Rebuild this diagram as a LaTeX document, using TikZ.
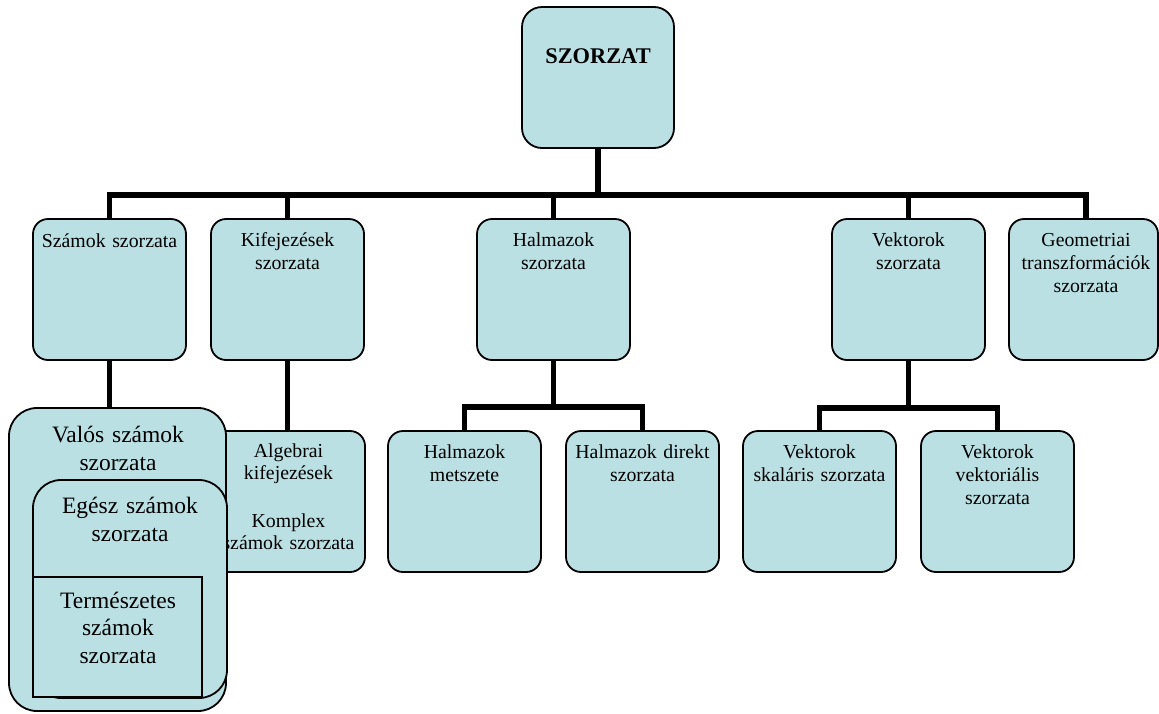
\documentclass[tikz,border=0pt]{standalone}
\usepackage{fontspec}
\setmainfont{Liberation Serif}
\definecolor{boxfill}{RGB}{187,224,228}
\tikzset{
  box/.style={draw=black, line width=1.8pt, fill=boxfill, rounded corners=15pt, inner sep=0pt, outer sep=0pt, anchor=north west},
  bigbox/.style={box, rounded corners=28pt},
  sqbox/.style={box, rounded corners=0pt},
  conn/.style={line width=5.5pt},
  txt/.style={align=center, anchor=base, inner sep=0pt, font=\fontsize{19.8}{23}\selectfont},
  bigtxt/.style={align=center, anchor=base, inner sep=0pt, font=\fontsize{23.5}{28}\selectfont},
}
\begin{document}
\begin{tikzpicture}[x=1pt,y=-1pt]
\useasboundingbox (0,0) rectangle (1159,713);
% top
\node[box, rounded corners=20pt, minimum width=152pt, minimum height=141pt] (top) at (522,7) {};
\node[txt, text width=152pt, font=\bfseries\fontsize{22.4}{26}\selectfont] (top-t) at (598,63) {SZORZAT};
% level 1
\node[box, minimum width=153pt, minimum height=141pt] (szamok) at (33,219) {};
\node[txt, text width=153pt] (szamok-t) at (szamok.north |- 0,247) {Számok szorzata};
\node[box, minimum width=153pt, minimum height=141pt] (kif) at (211,219) {};
\node[txt, text width=153pt] (kif-t) at (kif.north |- 0,246) {Kifejezések\\szorzata};
\node[box, minimum width=153pt, minimum height=141pt] (halm) at (477,219) {};
\node[txt, text width=153pt] (halm-t) at (halm.north |- 0,246) {Halmazok\\szorzata};
\node[box, minimum width=153pt, minimum height=141pt] (vekt) at (832,219) {};
\node[txt, text width=153pt] (vekt-t) at (vekt.north |- 0,246) {Vektorok\\szorzata};
\node[box, minimum width=149pt, minimum height=141pt] (geom) at (1009,219) {};
\node[txt, text width=153pt] (geom-t) at (1086,246) {Geometriai\\transzformációk\\szorzata};
% level 2
\node[box, minimum width=153pt, minimum height=141pt] (alg) at (212,431) {};
\node[txt, text width=153pt, font=\fontsize{19.8}{22.5}\selectfont] (alg-t) at (alg.north |- 0,457) {Algebrai\\kifejezések\\[2.5pt]\mbox{}\\Komplex\\számok szorzata};
\node[box, minimum width=153pt, minimum height=141pt] (hmet) at (388,431) {};
\node[txt, text width=153pt] (hmet-t) at (hmet.north |- 0,458) {Halmazok\\metszete};
\node[box, minimum width=153pt, minimum height=141pt] (hdir) at (566,431) {};
\node[txt, text width=153pt] (hdir-t) at (hdir.north |- 0,458) {Halmazok direkt\\szorzata};
\node[box, minimum width=153pt, minimum height=141pt] (vska) at (743,431) {};
\node[txt, text width=153pt] (vska-t) at (vska.north |- 0,458) {Vektorok\\skaláris szorzata};
\node[box, minimum width=153pt, minimum height=141pt] (vvek) at (921,431) {};
\node[txt, text width=153pt] (vvek-t) at (vvek.north |- 0,458) {Vektorok\\vektoriális\\szorzata};
% nested number boxes
\node[bigbox, minimum width=217pt, minimum height=303pt] (valos) at (9,408) {};
\node[bigtxt, text width=217pt] (valos-t) at (118,442) {Valós számok\\szorzata};
\node[bigbox, minimum width=194pt, minimum height=218pt] (egesz) at (33,480) {};
\node[bigtxt, text width=194pt] (egesz-t) at (130,513) {Egész számok\\szorzata};
\node[sqbox, minimum width=169pt, minimum height=120pt] (term) at (33,577) {};
\node[bigtxt, text width=169pt, font=\fontsize{23.5}{27.5}\selectfont] (term-t) at (118,608) {Természetes\\számok\\szorzata};
% connectors
\coordinate (tb) at (top.south |- 0,195);
\draw[conn] (top.south) -- (tb);
\draw[conn] (tb) -| (szamok.north);
\draw[conn] (tb) -| (kif.north);
\draw[conn] (tb) -| (halm.north);
\draw[conn] (tb) -| (vekt.north);
\draw[conn] (tb) -| (geom-t.north |- geom.north);
\draw[conn] (szamok.south) -- (szamok.south |- valos.north);
\draw[conn] (kif.south) -- (kif.south |- alg.north);
\coordinate (hb) at (halm.south |- 0,407);
\draw[conn] (halm.south) -- (hb);
\draw[conn] (hb) -| (hmet.north);
\draw[conn] (hb) -| (hdir.north);
\coordinate (vb) at (vekt.south |- 0,408);
\draw[conn] (vekt.south) -- (vb);
\draw[conn] (vb) -| (vska.north);
\draw[conn] (vb) -| (vvek.north);
\end{tikzpicture}
\end{document}
